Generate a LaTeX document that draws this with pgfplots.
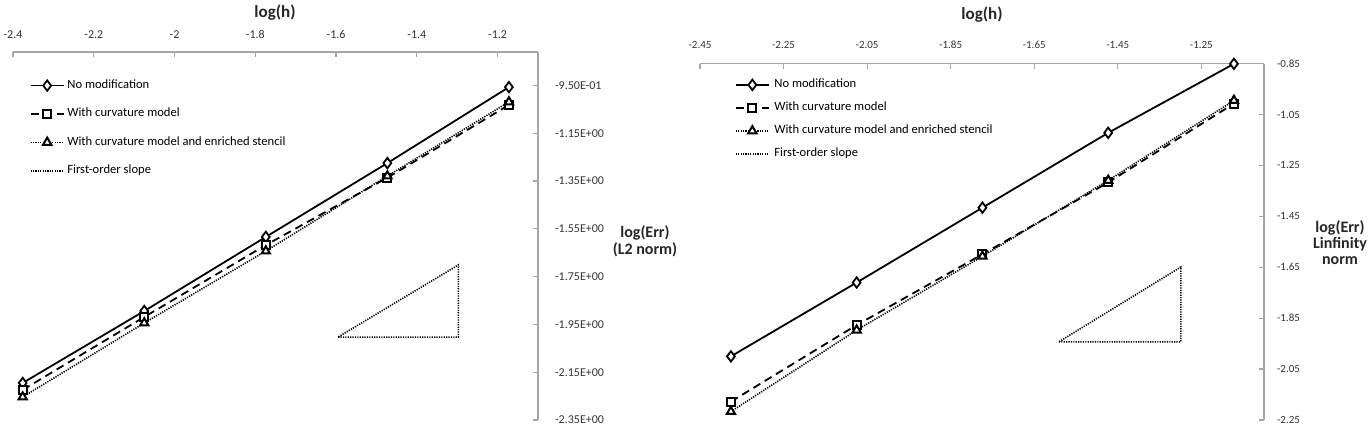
\documentclass[border=0pt]{standalone}
\usepackage{fontspec}
\setmainfont{Carlito}
\usepackage{pgfplots}
\pgfplotsset{compat=1.18}
\begin{document}
\begin{tikzpicture}
\useasboundingbox (0,0) rectangle (685.5pt,218.5pt);
\pgfplotsset{
 common/.style={
  scale only axis,
  axis x line=top, axis y line=right,
  axis line style={draw=black!35, line width=0.6pt, -},
  tick style={draw=black!35, line width=0.6pt},
  tick align=inside,
  major tick length=2.5pt,
  ticklabel style={text=black!80},
  clip=false,
  legend cell align=left,
  legend image code/.code={\draw[mark repeat=2,mark phase=2,##1] plot coordinates {(0pt,0pt) (8.25pt,0pt) (16.5pt,0pt)};},
  legend style={draw=none, fill=none, inner sep=0pt, outer sep=0pt, anchor=north west,
     font=\fontsize{6.3}{7.5}\selectfont,
     nodes={inner sep=0pt, text height=4.5pt, text depth=1.5pt}},
 },
 s1/.style={black, line width=0.9pt, mark=diamond*, mark size=2.6pt, mark options={solid, fill=white, line width=0.9pt}},
 s2/.style={black, line width=0.9pt, dash pattern=on 4pt off 2.6pt, mark=square*, mark size=2pt, mark options={solid, fill=white, line width=1pt}},
 s3/.style={black, line width=0.8pt, dash pattern=on 0.6pt off 0.6pt, mark=triangle*, mark size=2.4pt, mark options={solid, fill=white, line width=1pt}},
 s4/.style={black, line width=0.8pt, dash pattern=on 0.6pt off 0.6pt, mark=none},
}
% ---------------- left axis ----------------
\begin{axis}[common,
  at={(6.5pt,8.5pt)}, anchor=south west,
  width=262.5pt, height=184pt,
  xmin=-2.4, xmax=-1.1, ymin=-2.35, ymax=-0.81,
  xtick={-2.4,-2.2,-2,-1.8,-1.6,-1.4,-1.2},
  xticklabels={-2.4,-2.2,-2,-1.8,-1.6,-1.4,-1.2},
  ytick={-2.35,-2.15,-1.95,-1.75,-1.55,-1.35,-1.15,-0.95},
  yticklabels={-2.35E+00,-2.15E+00,-1.95E+00,-1.75E+00,-1.55E+00,-1.35E+00,-1.15E+00,-9.50E-01},
  ticklabel style={font=\fontsize{6}{7}\selectfont},
  xticklabel style={yshift=3pt},
  yticklabel style={xshift=5pt},
  legend style={at={(0.032,0.925)}, row sep=8.2pt, column sep=1.4pt},
]
\addplot[s1] coordinates {(-2.376,-2.195) (-2.075,-1.894) (-1.774,-1.584) (-1.473,-1.275) (-1.172,-0.957)};
\addlegendentry{No modification}
\addplot[s2] coordinates {(-2.376,-2.224) (-2.075,-1.919) (-1.774,-1.618) (-1.473,-1.336) (-1.172,-1.032)};
\addlegendentry{With curvature model}
\addplot[s3] coordinates {(-2.376,-2.254) (-2.075,-1.944) (-1.774,-1.643) (-1.473,-1.329) (-1.172,-1.019)};
\addlegendentry{With curvature model and enriched stencil}
\addplot[s4] coordinates {(-1.595,-2.003) (-1.297,-2.003) (-1.297,-1.701) (-1.595,-2.003)};
\addlegendentry{First-order slope}
\end{axis}
% ---------------- right axis ----------------
\begin{axis}[common,
  at={(350pt,8.5pt)}, anchor=south west,
  width=282pt, height=178.2pt,
  xmin=-2.45, xmax=-1.1, ymin=-2.25, ymax=-0.85,
  xtick={-2.45,-2.25,-2.05,-1.85,-1.65,-1.45,-1.25},
  xticklabels={-2.45,-2.25,-2.05,-1.85,-1.65,-1.45,-1.25},
  ytick={-2.25,-2.05,-1.85,-1.65,-1.45,-1.25,-1.05,-0.85},
  yticklabels={-2.25,-2.05,-1.85,-1.65,-1.45,-1.25,-1.05,-0.85},
  ticklabel style={font=\fontsize{5.5}{6.5}\selectfont},
  xticklabel style={yshift=3.8pt},
  yticklabel style={xshift=3pt},
  legend style={at={(0.062,0.957)}, row sep=5.5pt, column sep=2.3pt},
]
\addplot[s1] coordinates {(-2.376,-2.0) (-2.075,-1.71) (-1.774,-1.416) (-1.473,-1.122) (-1.172,-0.851)};
\addlegendentry{No modification}
\addplot[s2] coordinates {(-2.376,-2.178) (-2.075,-1.877) (-1.774,-1.599) (-1.473,-1.317) (-1.172,-1.007)};
\addlegendentry{With curvature model}
\addplot[s3] coordinates {(-2.376,-2.217) (-2.075,-1.897) (-1.774,-1.607) (-1.473,-1.309) (-1.172,-0.995)};
\addlegendentry{With curvature model and enriched stencil}
\addplot[s4] coordinates {(-1.591,-1.943) (-1.299,-1.943) (-1.299,-1.649) (-1.591,-1.943)};
\addlegendentry{First-order slope}
\end{axis}
% ---------------- axis titles ----------------
\node[font=\bfseries\fontsize{8.5}{10}\selectfont, text=black!85] at (137.5pt,212pt) {log(h)};
\node[font=\bfseries\fontsize{8.5}{10}\selectfont, text=black!85] at (491pt,211pt) {log(h)};
\node[font=\bfseries\fontsize{8}{8.7}\selectfont, text=black!85, align=center] at (322.5pt,98pt) {log(Err)\\(L2 norm)};
\node[font=\bfseries\fontsize{8}{8}\selectfont, text=black!85, align=center] at (670pt,97pt) {log(Err)\\Linfinity\\norm};
\end{tikzpicture}
\end{document}
